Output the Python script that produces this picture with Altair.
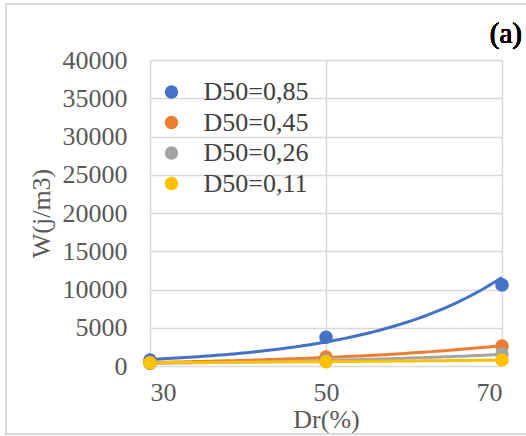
import altair as alt
import numpy as np
import pandas as pd

# Measured work W (j/m3) against relative density Dr (%) for four grain sizes
dr = [30, 50, 70]
series = ["D50=0,85", "D50=0,45", "D50=0,26", "D50=0,11"]
w_085 = [780, 3750, 10600]
w_045 = [450, 1170, 2600]
w_026 = [350, 700, 1550]
w_011 = [430, 560, 780]
colors = ["#4472C4", "#ED7D31", "#A5A5A5", "#FFC000"]
y_ticks = [0, 5000, 10000, 15000, 20000, 25000, 30000, 35000, 40000]

rows = []
fit_rows = []
grid = np.linspace(30, 70, 81)
for i, (name, vals) in enumerate(zip(series, [w_085, w_045, w_026, w_011])):
    for x, y in zip(dr, vals):
        rows.append({"series": name, "order": i, "Dr": x, "W": y})
    # exponential trendline: least squares on ln(W)
    b, a = np.polyfit(dr, np.log(vals), 1)
    for x in grid:
        fit_rows.append({"series": name, "order": i, "Dr": float(x), "W": float(np.exp(a + b * x))})
df = pd.DataFrame(rows)
fit = pd.DataFrame(fit_rows)

FONT = "Liberation Serif"
GREY = "#595959"
FS = 26

color_scale = alt.Scale(domain=series, range=colors)

x_enc = alt.X(
    "Dr:Q",
    scale=alt.Scale(domain=[30, 70], nice=False),
    axis=alt.Axis(
        values=dr, title="Dr(%)", grid=True, domain=False, ticks=False,
        labelPadding=13, titlePadding=1,
        labelFont=FONT, labelFontSize=FS, labelColor=GREY,
        titleFont=FONT, titleFontSize=FS, titleColor=GREY, titleFontWeight="normal",
        gridColor="#d9d9d9", gridWidth=1.5,
    ),
)
y_enc = alt.Y(
    "W:Q",
    scale=alt.Scale(domain=[0, 40000], nice=False),
    axis=alt.Axis(
        values=y_ticks, format="d", labelOverlap=False,
        title="W(j/m3)", grid=True, domain=False, ticks=False,
        labelPadding=23, titlePadding=8,
        labelFont=FONT, labelFontSize=FS, labelColor=GREY,
        titleFont=FONT, titleFontSize=FS, titleColor=GREY, titleFontWeight="normal",
        gridColor="#d9d9d9", gridWidth=1.5,
    ),
)
color_enc = alt.Color(
    "series:N",
    scale=color_scale,
    sort=series,
    legend=alt.Legend(
        title=None, orient="none", legendX=8.5, legendY=19,
        symbolType="circle", symbolSize=180, symbolStrokeWidth=0,
        labelFont=FONT, labelFontSize=FS, labelColor="#404040",
        labelOffset=19, rowPadding=4.5, padding=0, symbolOpacity=1,
    ),
)

frame = alt.Chart(df).mark_rect(fill=None, stroke="#d9d9d9", strokeWidth=2).encode(
    x=alt.value(-144), x2=alt.value(380), y=alt.value(-56), y2=alt.value(374)
)

trend = alt.Chart(fit).mark_line(strokeWidth=3, clip=False).encode(
    x=x_enc, y=y_enc, color=color_enc, detail="order:N"
)

points = alt.Chart(df).mark_circle(size=185, opacity=1).encode(
    x=x_enc, y=y_enc,
    color=alt.Color("series:N", scale=color_scale, legend=None),
    order="order:Q",
)

tag = alt.Chart(df).mark_text(
    font=FONT, fontSize=29, color="black", align="right", baseline="middle"
).encode(x=alt.value(372), y=alt.value(-26), text=alt.value("(a)"))

chart = alt.layer(frame, trend, points, tag).properties(
    width=352, height=306,
    autosize=alt.AutoSizeParams(type="none"),
    padding={"left": 150, "top": 60, "right": 24, "bottom": 70},
).configure_view(stroke=None)

chart.save("out.html", embed_options={"renderer": "svg", "actions": False})
